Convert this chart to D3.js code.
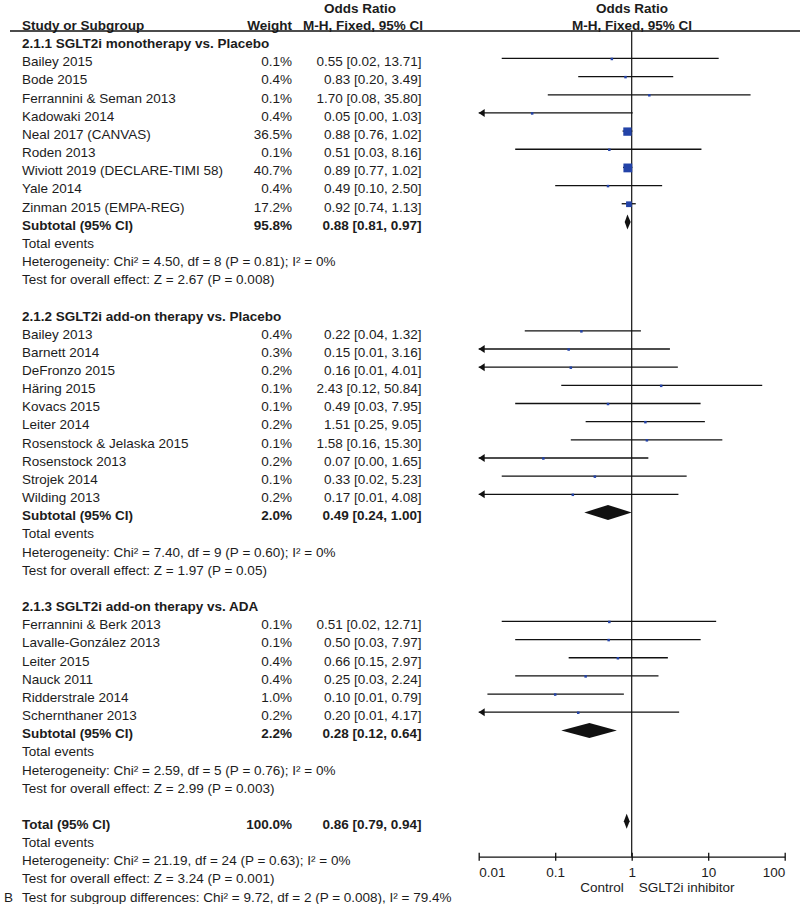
<!DOCTYPE html>
<html>
<head>
<meta charset="utf-8">
<script src="https://cdn.jsdelivr.net/npm/d3@7"></script>
<style>
  html, body { margin: 0; padding: 0; background: #fff; }
  svg { display: block; font-family: Arial, "Liberation Sans", sans-serif; }
  .txt { font-size: 13.5px; fill: #1c1c1c; }
  .bold { font-weight: bold; }
</style>
</head>
<body>
<div id="chart"></div>
<script>
// ---- data ----
const groupLabels = [
  '2.1.1 SGLT2i monotherapy vs. Placebo',
  '2.1.2 SGLT2i add-on therapy vs. Placebo',
  '2.1.3 SGLT2i add-on therapy vs. ADA'
];

const studyNames = [
  'Bailey 2015', 'Bode 2015', 'Ferrannini & Seman 2013', 'Kadowaki 2014', 'Neal 2017 (CANVAS)',
  'Roden 2013', 'Wiviott 2019 (DECLARE-TIMI 58)', 'Yale 2014', 'Zinman 2015 (EMPA-REG)',
  'Bailey 2013', 'Barnett 2014', 'DeFronzo 2015', 'Häring 2015', 'Kovacs 2015', 'Leiter 2014',
  'Rosenstock & Jelaska 2015', 'Rosenstock 2013', 'Strojek 2014', 'Wilding 2013',
  'Ferrannini & Berk 2013', 'Lavalle-González 2013', 'Leiter 2015', 'Nauck 2011',
  'Ridderstrale 2014', 'Schernthaner 2013'
];
const studyGroup = [0,0,0,0,0,0,0,0,0, 1,1,1,1,1,1,1,1,1,1, 2,2,2,2,2,2];
const studyWeight = [0.1, 0.4, 0.1, 0.4, 36.5, 0.1, 40.7, 0.4, 17.2,
  0.4, 0.3, 0.2, 0.1, 0.1, 0.2, 0.1, 0.2, 0.1, 0.2,
  0.1, 0.1, 0.4, 0.4, 1.0, 0.2];
const studyOR = [0.55, 0.83, 1.70, 0.05, 0.88, 0.51, 0.89, 0.49, 0.92,
  0.22, 0.15, 0.16, 2.43, 0.49, 1.51, 1.58, 0.07, 0.33, 0.17,
  0.51, 0.50, 0.66, 0.25, 0.10, 0.20];
// lower bounds below 0.01 run off the axis (drawn with an arrow)
const studyLow = [0.02, 0.20, 0.08, 0.002, 0.76, 0.03, 0.77, 0.10, 0.74,
  0.04, 0.007, 0.008, 0.12, 0.03, 0.25, 0.16, 0.003, 0.02, 0.008,
  0.02, 0.03, 0.15, 0.03, 0.013, 0.008];
const studyHigh = [13.71, 3.49, 35.80, 1.03, 1.02, 8.16, 1.02, 2.50, 1.13,
  1.32, 3.16, 4.01, 50.84, 7.95, 9.05, 15.30, 1.65, 5.23, 4.08,
  12.71, 7.97, 2.97, 2.24, 0.79, 4.17];

const subWeight = [95.8, 2.0, 2.2];
const subOR = [0.88, 0.49, 0.28];
const subLow = [0.81, 0.24, 0.12];
const subHigh = [0.97, 1.00, 0.64];
const subHet = [
  'Heterogeneity: Chi² = 4.50, df = 8 (P = 0.81); I² = 0%',
  'Heterogeneity: Chi² = 7.40, df = 9 (P = 0.60); I² = 0%',
  'Heterogeneity: Chi² = 2.59, df = 5 (P = 0.76); I² = 0%'
];
const subTest = [
  'Test for overall effect: Z = 2.67 (P = 0.008)',
  'Test for overall effect: Z = 1.97 (P = 0.05)',
  'Test for overall effect: Z = 2.99 (P = 0.003)'
];

const totalWeight = 100.0;
const totalOR = 0.86, totalLow = 0.79, totalHigh = 0.94;
const totalHet = 'Heterogeneity: Chi² = 21.19, df = 24 (P = 0.63); I² = 0%';
const totalTest = 'Test for overall effect: Z = 3.24 (P = 0.001)';
const subgroupDiff = 'Test for subgroup differences: Chi² = 9.72, df = 2 (P = 0.008), I² = 79.4%';

const tickValues = [0.01, 0.1, 1, 10, 100];
const tickLabels = ['0.01', '0.1', '1', '10', '100'];

// ---- build the row list ----
const rows = [];
groupLabels.forEach((label, g) => {
  rows.push({ type: 'group', label });
  studyNames.forEach((name, i) => {
    if (studyGroup[i] !== g) return;
    rows.push({ type: 'study', label: name, w: studyWeight[i], or: studyOR[i], lo: studyLow[i], hi: studyHigh[i] });
  });
  rows.push({ type: 'sub', label: 'Subtotal (95% CI)', w: subWeight[g], or: subOR[g], lo: subLow[g], hi: subHigh[g] });
  rows.push({ type: 'note', label: 'Total events' });
  rows.push({ type: 'note', label: subHet[g] });
  rows.push({ type: 'note', label: subTest[g] });
  rows.push({ type: 'blank' });
});
rows.push({ type: 'sub', label: 'Total (95% CI)', w: totalWeight, or: totalOR, lo: totalLow, hi: totalHigh });
rows.push({ type: 'note', label: 'Total events' });
rows.push({ type: 'note', label: totalHet });
rows.push({ type: 'note', label: totalTest });
rows.push({ type: 'note', label: subgroupDiff, prefix: 'B' });

const width = 800, height = 904;
const fmt = d3.format('.2f');
const fmtW = d3.format('.1f');

const svg = d3.select('#chart').append('svg')
  .attr('width', width)
  .attr('height', height);

// row position (plot line); text sits a little lower
const y = d3.scaleLinear().domain([0, rows.length - 1]).range([40.3, 40.3 + (rows.length - 1) * 18.16]);
const textDy = 7.8;

const x = d3.scaleLog().domain([0.01, 100]).range([478.7, 784.7]);
const boxSize = d3.scaleSqrt().domain([0, 40.7]).range([0, 8.8]);

const colName = 22, colWeight = 292, colCI = 421.5;
const axisY = 856.7;
const ink = '#111';

// ---- headers ----
const head = svg.append('g').attr('class', 'txt bold');
head.append('text').attr('x', 360).attr('y', 12.5).attr('text-anchor', 'middle').text('Odds Ratio');
head.append('text').attr('x', 632).attr('y', 12.5).attr('text-anchor', 'middle').text('Odds Ratio');
head.append('text').attr('x', colName).attr('y', 29.5).text('Study or Subgroup');
head.append('text').attr('x', colWeight).attr('y', 29.5).attr('text-anchor', 'end').text('Weight');
head.append('text').attr('x', 363).attr('y', 29.5).attr('text-anchor', 'middle').text('M-H, Fixed, 95% CI');
head.append('text').attr('x', 632).attr('y', 29.5).attr('text-anchor', 'middle').text('M-H, Fixed, 95% CI');

svg.append('line')
  .attr('x1', 10).attr('x2', 800).attr('y1', 31).attr('y2', 31)
  .attr('stroke', ink).attr('stroke-width', 1.3);

// line of no effect
svg.append('line')
  .attr('x1', x(1)).attr('x2', x(1)).attr('y1', 31).attr('y2', axisY)
  .attr('stroke', ink).attr('stroke-width', 1.2);

// ---- table text ----
const tg = svg.append('g').attr('class', 'txt');
rows.forEach((r, i) => {
  if (r.type === 'blank') return;
  const ty = y(i) + textDy;
  const bold = r.type === 'group' || r.type === 'sub';
  const t = tg.append('text').attr('x', colName).attr('y', ty).text(r.label);
  if (bold) t.attr('class', 'bold');
  if (r.prefix) tg.append('text').attr('x', 4).attr('y', ty).text(r.prefix);
  if (r.type === 'study' || r.type === 'sub') {
    tg.append('text').attr('x', colWeight).attr('y', ty).attr('text-anchor', 'end')
      .attr('class', bold ? 'bold' : null).text(fmtW(r.w) + '%');
    tg.append('text').attr('x', colCI).attr('y', ty).attr('text-anchor', 'end')
      .attr('class', bold ? 'bold' : null)
      .text(`${fmt(r.or)} [${fmt(r.lo)}, ${fmt(r.hi)}]`);
  }
});

// ---- plot marks ----
const pg = svg.append('g');
const [dMin, dMax] = x.domain();
rows.forEach((r, i) => {
  const cy = y(i);
  if (r.type === 'study') {
    const lo = Math.max(r.lo, dMin), hi = Math.min(r.hi, dMax);
    pg.append('line')
      .attr('x1', x(lo)).attr('x2', x(hi)).attr('y1', cy).attr('y2', cy)
      .attr('stroke', ink).attr('stroke-width', 1.3);
    if (r.lo < dMin) {
      const ax = x(dMin);
      pg.append('path')
        .attr('d', `M${ax},${cy}L${ax + 6},${cy - 4}L${ax + 6},${cy + 4}Z`)
        .attr('fill', ink);
    }
    const s = Math.max(2.5, boxSize(r.w));
    pg.append('rect')
      .attr('x', x(r.or) - s / 2).attr('y', cy - s / 2 + 0.5)
      .attr('width', s).attr('height', s)
      .attr('fill', '#2343a8');
  } else if (r.type === 'sub') {
    const h = 7.5;
    pg.append('path')
      .attr('d', `M${x(r.lo)},${cy}L${x(r.or)},${cy - h}L${x(r.hi)},${cy}L${x(r.or)},${cy + h}Z`)
      .attr('fill', ink);
  }
});

// ---- axis ----
const axis = d3.axisBottom(x)
  .tickValues(tickValues)
  .tickFormat((d, i) => tickLabels[i])
  .tickSizeInner(8)
  .tickSizeOuter(0)
  .tickPadding(12);

const ag = svg.append('g')
  .attr('transform', `translate(0,${axisY})`)
  .call(axis);
ag.select('.domain').attr('stroke', ink).attr('stroke-width', 1.3);
ag.selectAll('.tick line').attr('y1', -4).attr('y2', 4).attr('stroke', ink).attr('stroke-width', 1.3);
ag.selectAll('.tick text')
  .attr('y', 20)
  .attr('dy', 0)
  .attr('fill', '#1c1c1c')
  .style('font-size', '13.5px')
  .style('font-family', 'Arial, "Liberation Sans", sans-serif')
  .attr('text-anchor', (d, i) => i === 0 ? 'start' : (i === tickValues.length - 1 ? 'end' : 'middle'));

svg.append('text').attr('class', 'txt')
  .attr('x', x(1) - 8).attr('y', 891.5).attr('text-anchor', 'end').text('Control');
svg.append('text').attr('class', 'txt')
  .attr('x', x(1) + 7).attr('y', 891.5).text('SGLT2i inhibitor');
</script>
</body>
</html>
